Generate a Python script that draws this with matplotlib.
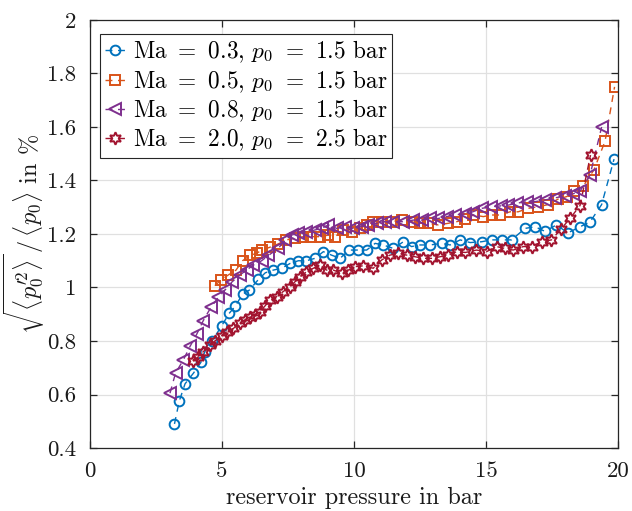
import matplotlib
matplotlib.use("Agg")
import matplotlib.pyplot as plt

plt.rcParams['font.family'] = 'serif'
plt.rcParams['font.serif'] = ['cmr10', 'DejaVu Serif']
plt.rcParams['mathtext.fontset'] = 'cm'
plt.rcParams['axes.formatter.use_mathtext'] = True

# ---- data ----
x_ma03 = [3.2, 3.38, 3.6, 3.92, 4.2, 4.35, 4.62, 4.99, 5.27, 5.5, 5.78, 6.03, 6.38, 6.64, 6.94,
          7.26, 7.58, 7.89, 8.2, 8.52, 8.84, 9.15, 9.47, 9.82, 10.16, 10.48, 10.8, 11.11, 11.49,
          11.87, 12.18, 12.5, 12.88, 13.32, 13.64, 14.02, 14.4, 14.83, 15.21, 15.59, 15.97, 16.48,
          16.86, 17.23, 17.67, 18.1, 18.56, 18.94, 19.38, 19.85]
y_ma03 = [0.49, 0.575, 0.64, 0.68, 0.72, 0.76, 0.80, 0.857, 0.903, 0.93, 0.975, 0.99, 1.03, 1.055,
          1.065, 1.072, 1.09, 1.10, 1.10, 1.109, 1.134, 1.121, 1.109, 1.14, 1.14, 1.14, 1.165, 1.159,
          1.146, 1.171, 1.153, 1.159, 1.159, 1.165, 1.159, 1.178, 1.168, 1.171, 1.178, 1.178, 1.178,
          1.221, 1.227, 1.21, 1.234, 1.204, 1.227, 1.245, 1.31, 1.48]

x_ma05 = [4.73, 4.96, 5.24, 5.53, 5.78, 6.06, 6.31, 6.52, 6.8, 7.13, 7.44, 7.77, 8.08, 8.39, 8.71,
          9.03, 9.28, 9.6, 9.91, 10.23, 10.48, 10.73, 11.05, 11.42, 11.8, 12.18, 12.5, 12.81, 13.19,
          13.57, 13.89, 14.2, 14.52, 14.9, 15.21, 15.53, 15.91, 16.22, 16.6, 16.98, 17.36, 17.72,
          18.06, 18.35, 18.69, 19.09, 19.51, 19.87]
y_ma05 = [1.007, 1.028, 1.047, 1.065, 1.10, 1.12, 1.128, 1.14, 1.15, 1.163, 1.178, 1.184, 1.19, 1.19,
          1.19, 1.196, 1.19, 1.215, 1.209, 1.221, 1.234, 1.246, 1.246, 1.246, 1.252, 1.246, 1.24,
          1.24, 1.234, 1.24, 1.246, 1.255, 1.271, 1.265, 1.271, 1.271, 1.283, 1.283, 1.296, 1.302,
          1.31, 1.33, 1.34, 1.36, 1.38, 1.44, 1.547, 1.75]

x_ma08 = [3.03, 3.24, 3.54, 3.79, 4.04, 4.29, 4.58, 4.86, 5.11, 5.37, 5.68, 5.93, 6.19, 6.5, 6.76,
          7.13, 7.39, 7.64, 7.89, 8.2, 8.52, 8.77, 9.03, 9.34, 9.66, 9.97, 10.29, 10.54, 10.86, 11.17,
          11.49, 11.87, 12.25, 12.56, 12.88, 13.19, 13.51, 13.83, 14.2, 14.5, 14.85, 15.2, 15.55,
          15.85, 16.16, 16.54, 16.86, 17.23, 17.61, 17.99, 18.3, 18.56, 18.94, 19.38]
y_ma08 = [0.605, 0.68, 0.73, 0.78, 0.825, 0.876, 0.926, 0.963, 0.99, 1.02, 1.047, 1.065, 1.084, 1.10,
          1.12, 1.146, 1.178, 1.196, 1.203, 1.209, 1.215, 1.221, 1.234, 1.221, 1.227, 1.221, 1.228,
          1.235, 1.24, 1.246, 1.246, 1.246, 1.252, 1.252, 1.258, 1.258, 1.265, 1.271, 1.275, 1.283,
          1.296, 1.302, 1.305, 1.308, 1.315, 1.321, 1.321, 1.327, 1.335, 1.342, 1.35, 1.36, 1.42, 1.60]

x_ma20 = [3.91, 4.1, 4.29, 4.55, 4.73, 4.99, 5.18, 5.43, 5.68, 5.87, 6.06, 6.25, 6.44, 6.62, 6.82,
          7.07, 7.32, 7.58, 7.77, 7.95, 8.2, 8.46, 8.71, 8.96, 9.22, 9.53, 9.78, 10.04, 10.35, 10.73,
          11.05, 11.36, 11.68, 12.0, 12.31, 12.62, 12.94, 13.26, 13.57, 13.89, 14.22, 14.64, 15.02,
          15.4, 15.72, 16.03, 16.41, 16.73, 17.11, 17.48, 17.83, 18.18, 18.56, 18.96]
y_ma20 = [0.726, 0.741, 0.76, 0.785, 0.80, 0.82, 0.835, 0.847, 0.866, 0.878, 0.89, 0.897, 0.91, 0.93,
          0.953, 0.966, 0.985, 1.003, 1.022, 1.04, 1.059, 1.072, 1.084, 1.065, 1.065, 1.053, 1.065,
          1.078, 1.081, 1.072, 1.103, 1.121, 1.128, 1.121, 1.115, 1.109, 1.109, 1.115, 1.121, 1.134,
          1.131, 1.14, 1.134, 1.153, 1.146, 1.14, 1.153, 1.153, 1.171, 1.178, 1.217, 1.258, 1.306, 1.495]

labels = [r'Ma $=$ 0.3, $p_0$ $=$ 1.5 bar',
          r'Ma $=$ 0.5, $p_0$ $=$ 1.5 bar',
          r'Ma $=$ 0.8, $p_0$ $=$ 1.5 bar',
          r'Ma $=$ 2.0, $p_0$ $=$ 2.5 bar']
colors = ['#0072BD', '#D95319', '#7E2F8E', '#A2142F']
markers = ['o', 's', '<', (6, 1, 0)]

xticks = [0, 5, 10, 15, 20]
yticks = [0.4, 0.6, 0.8, 1.0, 1.2, 1.4, 1.6, 1.8, 2.0]
yticklabels = ['0.4', '0.6', '0.8', '1', '1.2', '1.4', '1.6', '1.8', '2']

fig = plt.figure(figsize=(6.32, 5.11), dpi=100)
ax = fig.add_axes([90/632, 63/511, 528/632, 428/511])

series = [(x_ma03, y_ma03), (x_ma05, y_ma05), (x_ma08, y_ma08), (x_ma20, y_ma20)]
msizes = [7, 7, 8, 9]
for (xs, ys), c, m, lab, ms in zip(series, colors, markers, labels, msizes):
    ax.plot(xs, ys, linestyle=(0, (5, 4)), color=c, lw=1.0, marker=m, ms=ms,
            mfc='none', mec=c, mew=1.4, label=lab)

ax.set_xlim(0, 20)
ax.set_ylim(0.4, 2.0)
ax.set_xticks(xticks)
ax.set_xticklabels([str(t) for t in xticks])
ax.set_yticks(yticks)
ax.set_yticklabels(yticklabels)
ax.grid(True, color='#e0e0e0', lw=0.9)
ax.set_axisbelow(True)
for s in ax.spines.values():
    s.set_color('#262626')
    s.set_linewidth(0.9)
ax.tick_params(direction='in', top=True, right=True, length=5, width=0.9,
               colors='#262626', labelsize=16.5, labelcolor='#1a1a1a', pad=10)

ax.set_xlabel('reservoir pressure in bar', fontsize=17.5, color='#1a1a1a', labelpad=4)
ax.set_ylabel(r"$\sqrt{\langle p^{\prime 2}_0\rangle}\,/\,\langle p_0\rangle$ in %",
              fontsize=17.5, color='#1a1a1a', labelpad=0)

leg = ax.legend(loc='upper left', bbox_to_anchor=(0.019, 0.967), fontsize=16.8,
                handlelength=0.9, handletextpad=0.3, borderpad=0.2, labelspacing=0.12,
                borderaxespad=0, fancybox=False, framealpha=1, edgecolor='#262626')
leg.get_frame().set_linewidth(0.8)

fig.savefig('out.png', dpi=100)
